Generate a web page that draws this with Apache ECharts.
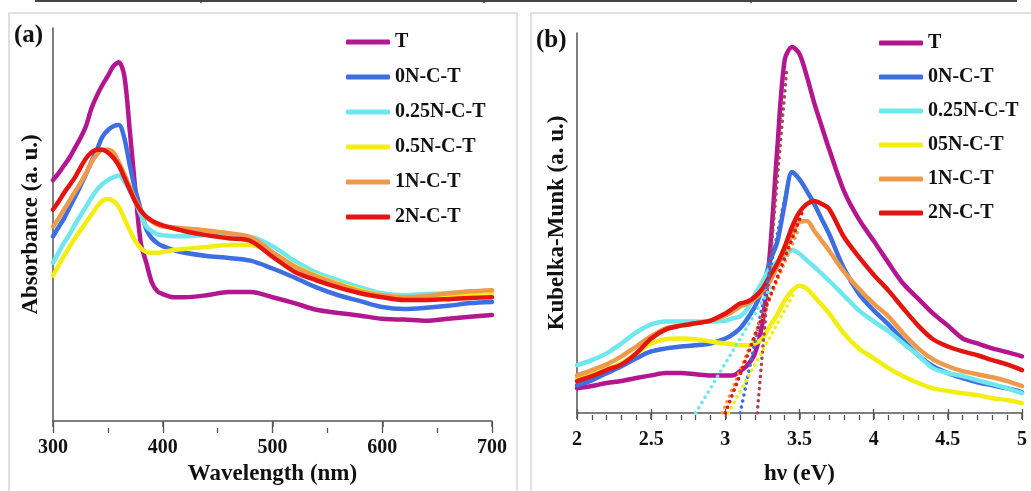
<!DOCTYPE html>
<html>
<head>
<meta charset="utf-8">
<script src="https://cdn.jsdelivr.net/npm/echarts@6/dist/echarts.min.js"></script>
<style>
  html, body { margin: 0; padding: 0; background: #fff; }
  #chart { width: 1031px; height: 491px; }
</style>
</head>
<body>
<div id="chart"></div>
<script>
// (a) absorbance vs wavelength
var wavelength = [300,305,310,315,320,325,330,335,340,345,350,355,360,365,370,375,380,385,390,395,400,410,420,440,460,480,500,520,540,560,580,600,620,640,660,680,700];
var absT    = [61.3,63,65,67,69.5,72,75,79.5,82.8,85.5,87.8,90.3,91.3,87.8,73.8,58.8,45.3,40.3,35.3,33,32.3,31.5,31.5,32,32.8,32.8,31.5,30,28.3,27.5,26.8,26,25.8,25.5,26,26.5,27];
var abs0N   = [47,49.3,51.5,54.3,57,59.8,62.8,66,69,72.3,74,75,75.3,72,65,58.8,53.8,48.8,46.5,45.3,44.5,43.5,42.8,42,41.5,40.8,38.8,36.5,34,32,30.5,29,28.5,28.8,29.3,30,30.3];
var abs025N = [40.3,42.8,45.3,47.5,50,52.3,54.5,56.8,58.8,60.3,61.3,62,62.5,61,58.5,55.8,52.5,49.5,48.3,47.5,47.3,47,47,47.3,47,46.8,44.5,40.8,37.8,35.8,34,32.5,32,32.3,32.5,32.8,33];
var abs05N  = [37,39.5,42,44.3,46.5,48.5,50.5,52.5,54.5,56,56.5,56,54.5,51.5,48.5,45.8,44,43,42.8,42.8,43,43.5,43.8,44.3,44.8,44.8,42.8,39.5,37,35,33.3,32,31.5,31.5,32,32.3,32.5];
var abs1N   = [49.5,51.5,53.8,56,58.3,60.5,63,65.8,67.8,69,69,68.3,65.8,62.8,59.5,56.3,53.8,51.8,50.8,50,49.5,49.3,49,48.5,47.8,46.8,43,39.3,36.8,34.8,33,32,31.5,31.8,32.5,33,33.3];
var abs2N   = [53.8,55.8,58,60,62,64.5,66.8,68.3,69,69,68.3,67,65,62,58.8,55.8,53.5,52,51,50.3,49.8,49,48.3,47.3,46.5,45.8,41.8,38,35.8,34,32.5,31.5,30.8,30.8,31,31.3,31.5];
var namesA  = ['T','0N-C-T','0.25N-C-T','0.5N-C-T','1N-C-T','2N-C-T'];

// (b) Kubelka-Munk vs photon energy
var energy  = [2.0,2.1,2.2,2.3,2.4,2.5,2.6,2.7,2.8,2.9,3.0,3.05,3.1,3.15,3.2,3.25,3.3,3.35,3.4,3.45,3.5,3.55,3.6,3.65,3.7,3.8,3.9,4.0,4.1,4.2,4.3,4.4,4.5,4.6,4.7,4.8,4.9,5.0];
var kmT     = [6.5,7.1,7.9,8.4,9.2,9.9,10.5,10.5,10.2,9.9,9.9,9.9,11,12.6,15.7,23.6,41.9,69.4,92.9,96.3,94.5,88.5,81.5,75.4,69.4,58.4,51,45.3,39.5,34,30.1,26.2,23,19.6,18.3,17,16,14.9];
var km0N    = [7.3,8.6,10.5,12.3,14.4,16.2,17,17.5,17.8,18.3,19.6,20.7,22.3,24.9,28,32.7,39.8,45,55,63.4,61.5,58.4,55,51,47.1,38,31.4,27,23.3,19.1,15.2,12.3,10.5,9.2,8.1,7.3,6.5,5.5];
var km025N  = [12.6,13.9,15.7,18.3,21.2,23.3,24.1,24.1,24.1,24.1,24.3,24.9,25.4,27.5,31.2,34.6,38,39.8,41.4,42.9,41.9,40.1,38.5,36.6,34.8,30.9,27,24.1,21.5,18.3,15.2,11.8,10.5,9.7,8.6,7.6,6.5,5.2];
var km05N   = [9.2,10.2,11.5,13.1,15.7,18.3,19.4,19.6,19.4,18.8,18.3,18.1,17.8,17.8,18.3,19.6,22.8,25.9,29.6,32.2,33.5,32.7,30.6,28.5,26.2,20.9,17,14.4,11.8,9.7,7.9,6.5,5.8,5.2,4.7,3.9,3.4,2.6];
var km1N    = [9.9,11.3,12.8,14.9,17.5,20.2,22.3,23,23.6,24.3,25.7,26.7,28,28.8,30.1,31.9,34.6,38.5,42.7,46.9,50.3,50.5,47.9,45.3,42.7,37.2,32.7,28.8,25.4,20.9,17,14.1,12.3,11,10.2,9.4,8.4,7.1];
var km2N    = [8.4,9.7,11.3,12.8,15.7,19.6,22,23,23.6,24.3,26.2,27.5,28.8,29.3,30.6,32.7,36.1,39.3,43.7,49,52.9,55,55.8,55,53.7,46.3,41.1,36.4,32.2,27.5,23,19.4,17.5,16.2,15.2,13.9,12.8,11.3];
var namesB  = ['T','0N-C-T','0.25N-C-T','05N-C-T','1N-C-T','2N-C-T'];

// band-gap extrapolation lines [[x0,y0],[x1,y1]]
var fitT    = [[3.215,0],[3.415,91]];
var fit0N   = [[3.10,0],[3.42,60]];
var fit025N = [[2.80,0],[3.32,34]];
var fit05N  = [[3.02,0],[3.47,32]];
var fit1N   = [[2.98,0],[3.49,48]];
var fit2N   = [[3.00,0],[3.52,53]];

var colors = ['#b3168f','#3d6fe0','#6ee7ee','#f2ee10','#ee9a4c','#e2150f'];
var fitTColor = '#a8434f';
var serif = "'Liberation Serif','Times New Roman',serif";
var ink = '#111';
var axisGray = '#555';

function curve(name, xs, ys, color, xi, yi) {
  return {
    name: name, type: 'line', xAxisIndex: xi, yAxisIndex: yi,
    data: xs.map(function (x, i) { return [x, ys[i]]; }),
    showSymbol: false, smooth: 0.3, animation: false,
    lineStyle: { color: color, width: 4.5, cap: 'round', join: 'round' },
    itemStyle: { color: color },
    emphasis: { disabled: true }
  };
}

function fitLine(name, pts, color) {
  return {
    name: name, type: 'line', xAxisIndex: 2, yAxisIndex: 2,
    data: pts, showSymbol: false, animation: false, z: 3,
    lineStyle: { color: color, width: 3.5, type: [0.1, 6], cap: 'round' },
    emphasis: { disabled: true }
  };
}

function mainX(grid, min, max, interval, name, gap, margin) {
  return {
    type: 'value', gridIndex: grid, min: min, max: max, interval: interval,
    name: name, nameLocation: 'middle', nameGap: gap,
    nameTextStyle: { fontFamily: serif, fontWeight: 'bold', fontSize: 23, color: ink },
    axisLine: { show: true, onZero: false, lineStyle: { color: axisGray, width: 1.5 } },
    axisTick: { show: true, length: 6, lineStyle: { color: axisGray, width: 1.5 } },
    axisLabel: { fontFamily: serif, fontWeight: 'bold', fontSize: 20, color: ink, margin: margin },
    splitLine: { show: false }
  };
}

// overlay axes used only for extra tick marks
function tickX(grid, min, max, interval, inside, len) {
  return {
    type: 'value', gridIndex: grid, min: min, max: max, interval: interval,
    axisLine: { show: false }, axisLabel: { show: false }, splitLine: { show: false },
    axisTick: { show: true, inside: inside, length: len, lineStyle: { color: axisGray, width: 1.3 } }
  };
}

function mainY(grid, name, gap) {
  return {
    type: 'value', gridIndex: grid, min: 0, max: 100,
    name: name, nameLocation: 'middle', nameGap: gap,
    nameTextStyle: { fontFamily: serif, fontWeight: 'bold', fontSize: 23, color: ink },
    axisLine: { show: true, lineStyle: { color: axisGray, width: 1.5 } },
    axisTick: { show: false }, axisLabel: { show: false }, splitLine: { show: false }
  };
}

function hiddenY(grid) {
  return { type: 'value', gridIndex: grid, show: false, min: 0, max: 100 };
}

function legendAt(left, top, gap, names) {
  return {
    orient: 'vertical', left: left, top: top, itemGap: gap,
    itemWidth: 44, itemHeight: 5, icon: 'roundRect', selectedMode: false,
    data: names,
    textStyle: { fontFamily: serif, fontWeight: 'bold', fontSize: 20, lineHeight: 20, color: ink }
  };
}

var absA = [absT, abs0N, abs025N, abs05N, abs1N, abs2N];
var kmB  = [kmT, km0N, km025N, km05N, km1N, km2N];
var series = [];
namesA.forEach(function (n, i) { series.push(curve(n, wavelength, absA[i], colors[i], 0, 0)); });
namesB.forEach(function (n, i) { series.push(curve(n, energy, kmB[i], colors[i], 2, 2)); });
series.push(fitLine('fit T', fitT, fitTColor));
series.push(fitLine('fit 0N', fit0N, colors[1]));
series.push(fitLine('fit 0.25N', fit025N, colors[2]));
series.push(fitLine('fit 0.5N', fit05N, colors[3]));
series.push(fitLine('fit 1N', fit1N, colors[4]));
series.push(fitLine('fit 2N', fit2N, colors[5]));

var gridA = { left: 53, right: 539, top: 28, bottom: 63 };
var gridB = { left: 577, right: 9, top: 33, bottom: 76 };

var chart = echarts.init(document.getElementById('chart'));
chart.setOption({
  backgroundColor: '#fff',
  animation: false,
  // 0/2 hold the data, 1/3 inner major ticks, 4/5 minor ticks
  grid: [gridA, gridA, gridB, gridB, gridA, gridB],
  xAxis: [
    mainX(0, 300, 700, 100, 'Wavelength (nm)', 42, 17),
    tickX(1, 300, 700, 100, true, 6),
    mainX(2, 2, 5, 0.5, 'hν (eV)', 50, 17),
    tickX(3, 2, 5, 0.5, true, 6),
    tickX(4, 300, 700, 50, false, 5),
    tickX(5, 2, 5, 0.1, false, 5)
  ],
  yAxis: [
    mainY(0, 'Absorbance (a. u.)', 10),
    hiddenY(1),
    mainY(2, 'Kubelka-Munk (a. u.)', 8),
    hiddenY(3), hiddenY(4), hiddenY(5)
  ],
  legend: [legendAt(341, 27, 15, namesA), legendAt(874, 28, 14, namesB)],
  graphic: [
    // panel frames
    { type: 'rect', shape: { x: 9, y: 13, width: 508, height: 495 }, style: { fill: 'none', stroke: '#d6d6d6', lineWidth: 1.5 }, silent: true },
    { type: 'rect', shape: { x: 531, y: 13, width: 520, height: 495 }, style: { fill: 'none', stroke: '#d6d6d6', lineWidth: 1.5 }, silent: true },
    // remnant of the table border above
    { type: 'line', shape: { x1: 35, y1: 1, x2: 1017, y2: 1 }, style: { stroke: '#444', lineWidth: 2 }, silent: true },
    { type: 'line', shape: { x1: 201, y1: 0, x2: 201, y2: 3 }, style: { stroke: '#444', lineWidth: 1.5 }, silent: true },
    { type: 'line', shape: { x1: 484, y1: 0, x2: 484, y2: 3 }, style: { stroke: '#444', lineWidth: 1.5 }, silent: true },
    { type: 'line', shape: { x1: 751, y1: 0, x2: 751, y2: 3 }, style: { stroke: '#444', lineWidth: 1.5 }, silent: true },
    // panel letters
    { type: 'text', left: 14, top: 23, style: { text: '(a)', font: 'bold 25px ' + serif, fill: ink } },
    { type: 'text', left: 536, top: 28, style: { text: '(b)', font: 'bold 25px ' + serif, fill: ink } }
  ],
  series: series
});
</script>
</body>
</html>
